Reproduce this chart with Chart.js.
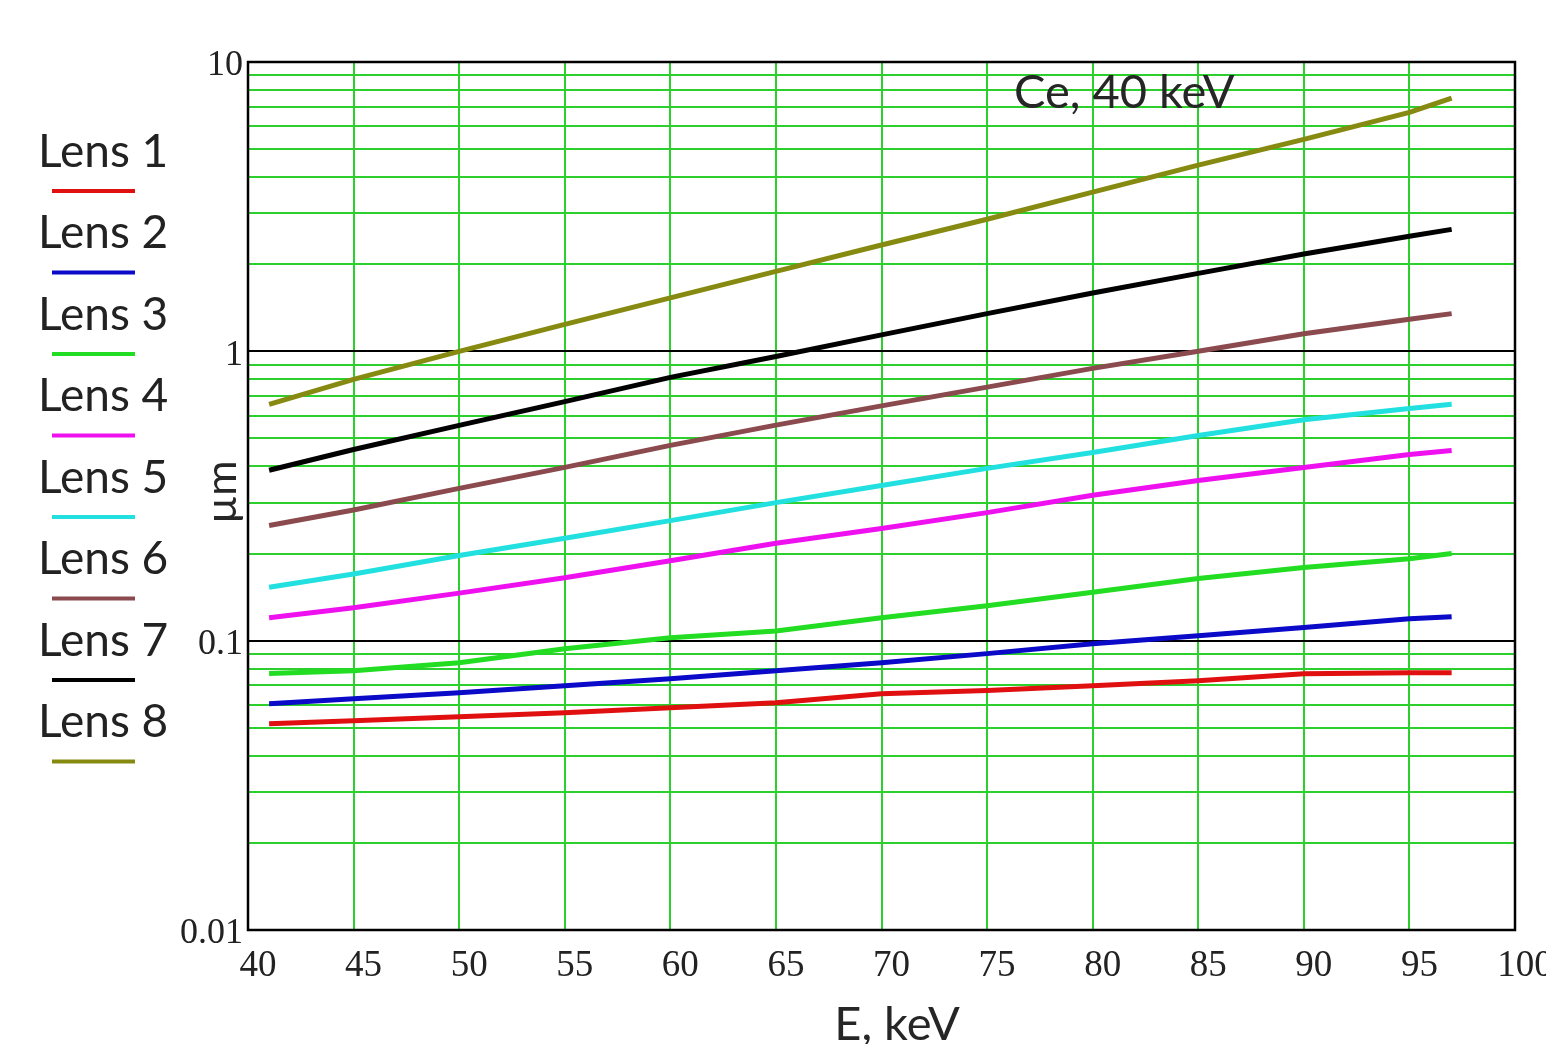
<!DOCTYPE html>
<html>
<head>
<meta charset="utf-8">
<script src="https://cdn.jsdelivr.net/npm/chart.js@4.4.1/dist/chart.umd.min.js"></script>
<style>
  html, body { margin: 0; padding: 0; background: #fff; }
  #wrap { width: 1546px; height: 1044px; position: relative; }
</style>
</head>
<body>
<div id="wrap"><canvas id="c"></canvas></div>
<script>
// energy, keV
const energy = [41, 45, 50, 55, 60, 65, 70, 75, 80, 85, 90, 95, 97];
// thickness, µm
const lens1 = [0.0516, 0.0529, 0.0546, 0.0563, 0.0586, 0.061, 0.0655, 0.0672, 0.0699, 0.0727, 0.0769, 0.0775, 0.0775];
const lens2 = [0.0605, 0.063, 0.0661, 0.0699, 0.0739, 0.0787, 0.0839, 0.0902, 0.0976, 0.104, 0.111, 0.119, 0.121];
const lens3 = [0.077, 0.0787, 0.0839, 0.0938, 0.1024, 0.108, 0.12, 0.132, 0.147, 0.164, 0.179, 0.192, 0.2];
const lens4 = [0.12, 0.13, 0.146, 0.165, 0.189, 0.217, 0.244, 0.277, 0.318, 0.358, 0.397, 0.440, 0.454];
const lens5 = [0.153, 0.17, 0.197, 0.226, 0.26, 0.30, 0.344, 0.394, 0.447, 0.512, 0.58, 0.635, 0.656];
const lens6 = [0.25, 0.283, 0.336, 0.397, 0.473, 0.556, 0.648, 0.752, 0.873, 1.0, 1.15, 1.29, 1.35];
const lens7 = [0.388, 0.458, 0.555, 0.67, 0.813, 0.96, 1.14, 1.35, 1.59, 1.86, 2.17, 2.5, 2.64];
const lens8 = [0.656, 0.80, 1.0, 1.24, 1.53, 1.89, 2.33, 2.86, 3.55, 4.4, 5.4, 6.7, 7.5];

const seriesNames = ['Lens 1', 'Lens 2', 'Lens 3', 'Lens 4', 'Lens 5', 'Lens 6', 'Lens 7', 'Lens 8'];
const seriesValues = [lens1, lens2, lens3, lens4, lens5, lens6, lens7, lens8];
const seriesColors = ['#e01010', '#0a0ac8', '#22dd22', '#ee10ee', '#22e0e0', '#8a4a4e', '#000000', '#878a10'];

const xTicks = [40, 45, 50, 55, 60, 65, 70, 75, 80, 85, 90, 95, 100];
const yDecades = [0.01, 0.1, 1, 10];
const yLabels = ['0.01', '0.1', '1', '10'];

// minor log grid: 1..9 within each decade
const yTicks = [];
for (let d = 0; d < yDecades.length - 1; d++) {
  for (let k = 1; k < 10; k++) yTicks.push(+(yDecades[d] * k).toPrecision(3));
}
yTicks.push(yDecades[yDecades.length - 1]);

const GREEN = '#2ccf2c';

const datasets = seriesNames.map((name, i) => ({
  label: name,
  data: energy.map((e, j) => ({ x: e, y: seriesValues[i][j] })),
  borderColor: seriesColors[i],
  borderWidth: 5,
  pointRadius: 0,
  tension: 0,
  fill: false
}));

const extras = {
  id: 'extras',
  beforeDatasetsDraw(chart) {
    const { ctx, chartArea: a } = chart;
    ctx.save();
    ctx.strokeStyle = '#000';
    ctx.lineWidth = 2.5;
    ctx.strokeRect(a.left, a.top, a.right - a.left, a.bottom - a.top);
    ctx.restore();
  },
  afterDraw(chart) {
    const { ctx } = chart;
    ctx.save();
    // annotation
    ctx.fillStyle = '#262626';
    ctx.font = '47px Lato';
    ctx.textBaseline = 'middle';
    ctx.textAlign = 'left';
    ctx.fillText('Ce, 40 keV', 1014, 93);

    // x title
    ctx.textAlign = 'center';
    ctx.font = '47px Lato';
    ctx.fillText('E, keV', 897, 1025);

    // y title
    ctx.save();
    ctx.translate(222, 492);
    ctx.rotate(-Math.PI / 2);
    ctx.font = '43px Lato';
    ctx.fillText('µm', 0, 0);
    ctx.restore();

    // legend on the left
    ctx.textAlign = 'left';
    ctx.font = '46px Lato';
    chart.data.datasets.forEach((ds, i) => {
      const ty = 152 + i * 81.5;
      ctx.fillStyle = '#222';
      ctx.fillText(ds.label, 38, ty);
      ctx.strokeStyle = ds.borderColor;
      ctx.lineWidth = 4;
      ctx.beginPath();
      ctx.moveTo(52, ty + 39);
      ctx.lineTo(135, ty + 39);
      ctx.stroke();
    });
    ctx.restore();
  }
};

new Chart(document.getElementById('c'), {
  type: 'line',
  data: { datasets },
  options: {
    responsive: true,
    maintainAspectRatio: false,
    animation: false,
    layout: { padding: { top: 62, right: 31, left: 0, bottom: 0 } },
    plugins: { legend: { display: false }, tooltip: { enabled: false } },
    scales: {
      x: {
        type: 'linear',
        min: 40,
        max: 100,
        afterFit(s) { s.height = 114; s.paddingRight = 0; s.paddingLeft = 0; },
        afterBuildTicks(s) { s.ticks = xTicks.map(v => ({ value: v })); },
        border: { display: false },
        grid: { color: GREEN, lineWidth: 2, drawTicks: false },
        ticks: {
          autoSkip: false,
          maxRotation: 0,
          padding: 14,
          labelOffset: 10,
          color: '#222',
          font: { family: 'Liberation Serif', size: 37 }
        }
      },
      y: {
        type: 'logarithmic',
        min: 0.01,
        max: 10,
        afterFit(s) { s.width = 248; },
        afterBuildTicks(s) {
          s.ticks = yTicks.map(v => ({ value: v, major: yDecades.includes(v) }));
        },
        border: { display: false },
        grid: {
          drawTicks: false,
          lineWidth: 2,
          color: c => (c.tick && yDecades.includes(c.tick.value)) ? '#000' : GREEN
        },
        ticks: {
          autoSkip: false,
          padding: 5,
          labelOffset: 4,
          color: '#222',
          font: { family: 'Liberation Serif', size: 36 },
          callback: v => {
            const k = yDecades.indexOf(v);
            return k >= 0 ? yLabels[k] : '';
          }
        }
      }
    }
  },
  plugins: [extras]
});
</script>
</body>
</html>
